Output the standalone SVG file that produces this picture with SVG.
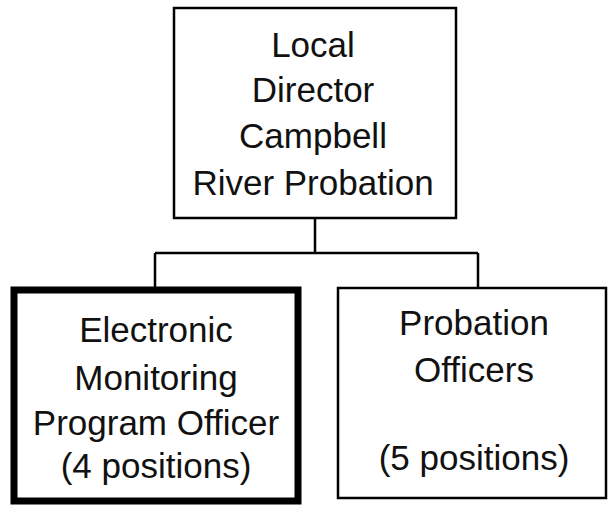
<svg xmlns="http://www.w3.org/2000/svg" width="608" height="507" viewBox="0 0 608 507">
<style>
.box{fill:#fff;stroke:#000;stroke-width:2.5}
.thick{fill:#fff;stroke:#000;stroke-width:7}
.lbl{font-family:"Liberation Sans",Arial,sans-serif;font-size:35px;fill:#111;text-anchor:middle}
.conn{fill:none;stroke:#000;stroke-width:2.5}
</style>
<rect width="608" height="507" fill="#fff"/>
<g id="connectors">
<path class="conn" d="M315,218 V253 M155,253 H478 M155,253 V290 M478,253 V288"/>
</g>
<g id="director">
<rect class="box" x="174" y="8" width="282" height="210"/>
<text class="lbl" x="313" y="57">Local</text>
<text class="lbl" x="313" y="102">Director</text>
<text class="lbl" x="313" y="148">Campbell</text>
<text class="lbl" x="313" y="195">River Probation</text>
</g>
<g id="em-officer">
<rect class="thick" x="14" y="290" width="284" height="211"/>
<text class="lbl" x="156" y="342">Electronic</text>
<text class="lbl" x="156" y="390">Monitoring</text>
<text class="lbl" x="156" y="435">Program Officer</text>
<text class="lbl" x="156" y="478">(4 positions)</text>
</g>
<g id="probation-officers">
<rect class="box" x="338" y="288" width="268" height="210"/>
<text class="lbl" x="474" y="335">Probation</text>
<text class="lbl" x="474" y="382">Officers</text>
<text class="lbl" x="474" y="470">(5 positions)</text>
</g>
</svg>
